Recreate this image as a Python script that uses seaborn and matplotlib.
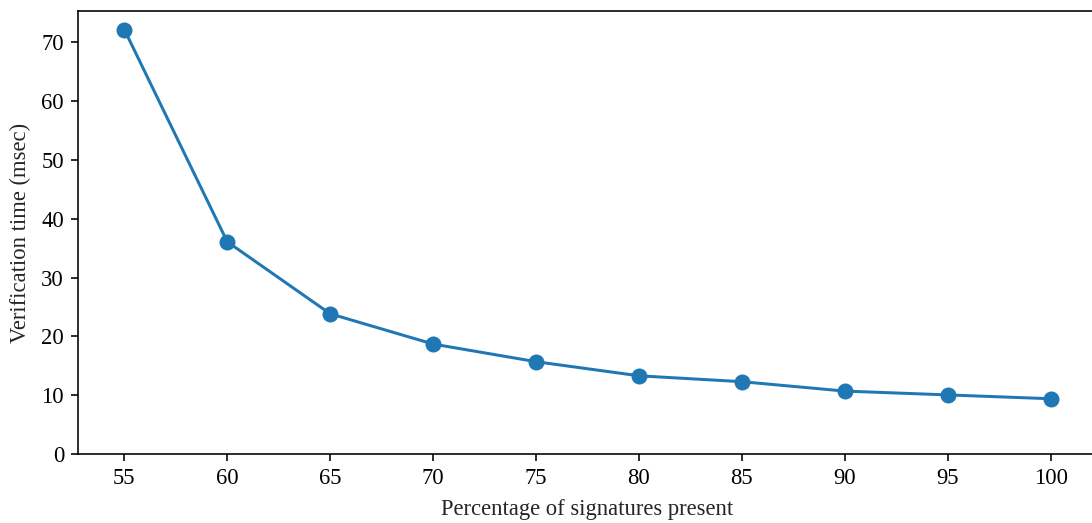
import matplotlib
matplotlib.use("Agg")
import matplotlib.pyplot as plt
import seaborn as sns
import pandas as pd

percent = [55, 60, 65, 70, 75, 80, 85, 90, 95, 100]
verify_ms = [72.2, 36.1, 23.85, 18.7, 15.7, 13.3, 12.3, 10.7, 10.05, 9.4]
xticks = [55, 60, 65, 70, 75, 80, 85, 90, 95, 100]
yticks = [0, 10, 20, 30, 40, 50, 60, 70]

sns.set_style("ticks")
plt.rcParams['font.family'] = ['Liberation Serif', 'DejaVu Serif']
plt.rcParams['mathtext.fontset'] = 'stix'

df = pd.DataFrame({"pct": percent, "t": verify_ms})

DPI = 144
W, H = 1092, 523
fig = plt.figure(figsize=(W / DPI, H / DPI), dpi=DPI)
ax = fig.add_axes([78 / W, (H - 454) / H, (1097 - 78) / W, (454 - 11) / H])

sns.lineplot(data=df, x="pct", y="t", ax=ax, color="#1f77b4", linewidth=1.5,
             marker="o", markersize=8, markeredgewidth=0)

ax.set_xlim(52.75, 102.25)
ax.set_ylim(0, 75.35)
ax.set_xticks(xticks)
ax.set_yticks(yticks)
ax.tick_params(axis="both", labelsize=11.3, length=3.5, width=0.8, pad=3.5, colors="black")
for s in ax.spines.values():
    s.set_linewidth(0.8)
    s.set_color("black")
ax.set_xlabel("Percentage of signatures present", fontsize=11.3, labelpad=5)
ax.set_ylabel("Verification time (msec)", fontsize=11.3, labelpad=5)

fig.savefig("out.png", dpi=DPI)
